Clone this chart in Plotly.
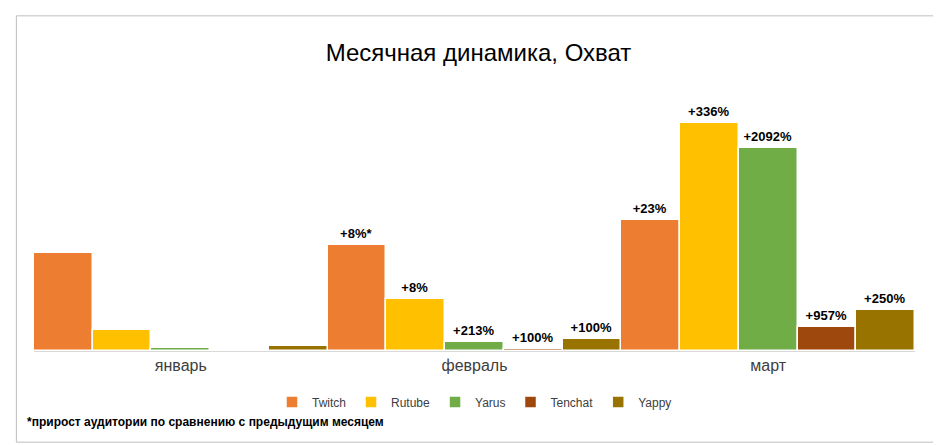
import plotly.graph_objects as go

months = ['январь', 'февраль', 'март']
series = ['Twitch', 'Rutube', 'Yarus', 'Tenchat', 'Yappy']
colors = ['#ED7D31', '#FFC000', '#70AD47', '#9E480E', '#997300']
values = {
    'Twitch': [98, 106, 130],
    'Rutube': [21, 52, 227],
    'Yarus': [3, 9, 202],
    'Tenchat': [0, 2, 24],
    'Yappy': [5, 12, 41],
}
labels = {
    'Twitch': ['', '+8%*', '+23%'],
    'Rutube': ['', '+8%', '+336%'],
    'Yarus': ['', '+213%', '+2092%'],
    'Tenchat': ['', '+100%', '+957%'],
    'Yappy': ['', '+100%', '+250%'],
}

fig = go.Figure()
for name, color in zip(series, colors):
    fig.add_trace(go.Bar(
        x=months, y=values[name], name=name,
        marker=dict(color=color, line=dict(color='white', width=1.5)),
        text=[f'<b>{t}</b>' if t else '' for t in labels[name]],
        textposition='outside', cliponaxis=False,
        textfont=dict(size=13, color='#000', family='Liberation Sans, Arial'),
    ))

fig.update_layout(
    width=941, height=445,
    barmode='group', bargap=0.0, bargroupgap=0.0,
    plot_bgcolor='white', paper_bgcolor='white',
    font=dict(family='Liberation Sans, Arial', color='#404040'),
    title=dict(text='Месячная динамика, Охват', x=0.5, y=0.90, xanchor='center',
               yanchor='middle', font=dict(size=24, color='#000')),
    margin=dict(l=26, r=34, t=115, b=102, autoexpand=False),
    legend=dict(orientation='h', x=0.5, xanchor='center', y=-0.16, yanchor='top',
                font=dict(size=12, color='#404040')),
    showlegend=True,
    uniformtext=dict(minsize=12, mode='show'),
)
fig.update_xaxes(showline=True, linecolor='#d9d9d9', tickfont=dict(size=16, color='#404040'),
                 ticks='')
fig.update_yaxes(visible=False, range=[0, 227])
fig.add_shape(type='rect', xref='paper', yref='paper', x0=-0.02, x1=1.03, y0=-0.40, y1=1.47,
              line=dict(color='#bfbfbf', width=1))
fig.add_annotation(text='<b>*прирост аудитории по сравнению с предыдущим месяцем</b>',
                   xref='paper', yref='paper', x=-0.01, y=-0.31, xanchor='left',
                   yanchor='middle', showarrow=False, font=dict(size=12, color='#000'))

fig.write_html('out.html')
